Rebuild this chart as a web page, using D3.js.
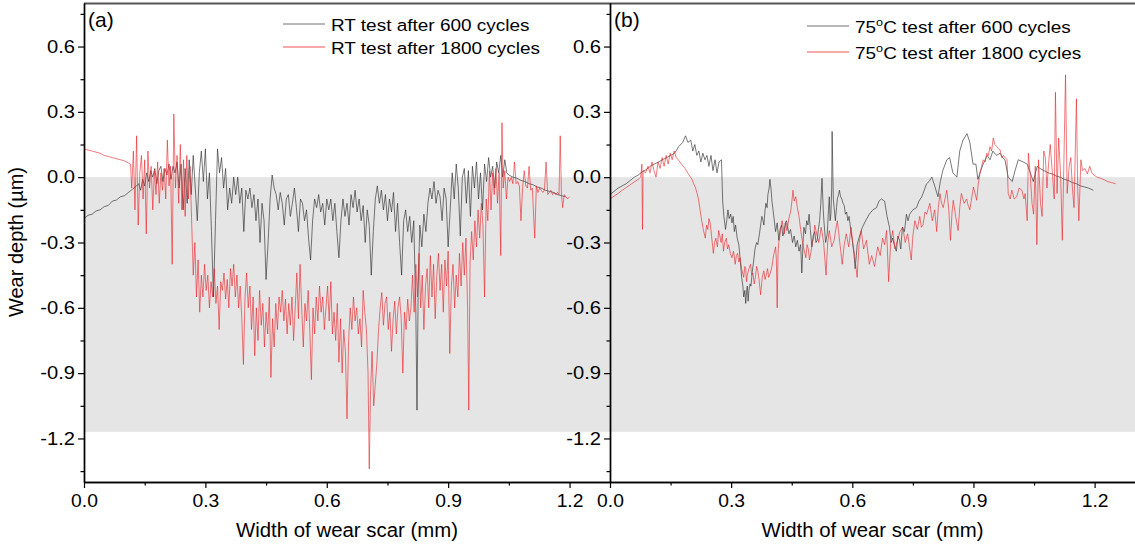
<!DOCTYPE html>
<html><head><meta charset="utf-8">
<script src="https://cdn.jsdelivr.net/npm/d3@7"></script>
<style>
body{margin:0;background:#fff}
svg{display:block}
text{font-family:"Liberation Sans",Arial,sans-serif;fill:#000}
</style></head>
<body><svg id="chart" width="1135" height="544"></svg>
<script>
// ---------- data ----------
const xDomain=[0,1.3];
const yDomain=[-1.4,0.8];
const xMajorTicks=[0,0.3,0.6,0.9,1.2];
const xMinorTicks=[0.15,0.45,0.75,1.05];
const yMajorTicks=[-1.2,-0.9,-0.6,-0.3,0,0.3,0.6];
const yMinorTicks=[-1.35,-1.05,-0.75,-0.45,-0.15,0.15,0.45,0.75];
const bandRange=[0,-1.17];
const panelLabels=["(a)","(b)"];
const xTitle="Width of wear scar (mm)";
const yTitle="Wear depth (µm)";
const legendA=[["RT test after 600 cycles"],["RT test after 1800 cycles"]];
const legendB=[["75","o","C test after 600 cycles"],["75","o","C test after 1800 cycles"]];

const rt600=[[0,-0.19],[0.01,-0.175],[0.02,-0.17],[0.03,-0.155],[0.04,-0.15],[0.05,-0.135],[0.06,-0.13],[0.07,-0.11],[0.08,-0.105],[0.09,-0.09],[0.1,-0.085],[0.11,-0.07],[0.12,-0.055],[0.13,-0.04],
[0.135,-0.03],[0.14,-0.06],[0.145,-0.01],[0.15,-0.04],[0.155,0.02],[0.16,-0.02],[0.165,0.03],[0.17,0.0],[0.175,0.04],[0.18,-0.03],[0.185,0.03],[0.19,0.05],[0.195,-0.02],[0.2,0.04],[0.205,0.01],[0.21,0.06],[0.215,-0.01],[0.22,0.05],[0.225,0.02],[0.23,0.07],[0.235,-0.05],[0.24,0.06],[0.245,-0.15],[0.25,0.04],[0.255,-0.12],[0.26,0.08],
[0.265,-0.08],[0.27,0.1],[0.275,-0.05],[0.28,-0.2],[0.285,0.02],[0.29,0.12],[0.295,-0.02],[0.3,0.13],[0.305,-0.1],[0.31,0.02],[0.315,-0.25],[0.32,-0.55],[0.325,-0.2],[0.33,0.13],[0.335,0.02],[0.34,0.09],[0.345,-0.05],[0.35,0.04],[0.355,-0.15],[0.36,-0.05],
[0.365,-0.12],[0.37,0.0],[0.375,-0.08],[0.38,0.0],[0.385,-0.12],[0.39,-0.05],[0.395,-0.25],[0.4,-0.06],[0.405,-0.1],[0.41,-0.05],[0.415,-0.14],[0.42,-0.08],[0.425,-0.2],[0.43,-0.1],[0.435,-0.3],[0.44,-0.12],[0.445,-0.2],[0.45,-0.47],[0.455,-0.3],[0.46,-0.1],[0.465,0.01],[0.47,-0.05],[0.475,-0.08],[0.48,-0.15],[0.485,-0.07],[0.49,-0.12],
[0.495,-0.22],[0.5,-0.1],[0.505,-0.08],[0.51,-0.18],[0.515,-0.12],[0.52,-0.05],[0.525,-0.14],[0.53,-0.25],[0.535,-0.1],[0.54,-0.12],[0.545,-0.2],[0.55,-0.15],[0.555,-0.28],[0.56,-0.38],[0.565,-0.2],[0.57,-0.1],[0.575,-0.14],[0.58,-0.08],[0.585,-0.16],[0.59,-0.12],[0.595,-0.22],[0.6,-0.1],
[0.605,-0.15],[0.61,-0.1],[0.615,-0.2],[0.62,-0.12],[0.625,-0.25],[0.63,-0.37],[0.635,-0.2],[0.64,-0.1],[0.645,-0.18],[0.65,-0.12],[0.655,-0.22],[0.66,-0.08],[0.665,-0.14],[0.67,-0.06],[0.675,-0.16],[0.68,-0.1],[0.685,-0.2],[0.69,-0.13],[0.695,-0.3],[0.7,-0.15],[0.705,-0.22],[0.71,-0.45],[0.715,-0.25],[0.72,-0.1],
[0.725,-0.04],[0.73,-0.12],[0.735,-0.06],[0.74,-0.15],[0.745,-0.08],[0.75,-0.2],[0.755,-0.1],[0.76,-0.16],[0.765,-0.07],[0.77,-0.25],[0.775,-0.12],[0.78,-0.3],[0.785,-0.45],[0.79,-0.2],[0.795,-0.15],
[0.8,-0.25],[0.805,-0.18],[0.81,-0.3],[0.815,-0.2],[0.82,-0.6],[0.823,-1.07],[0.826,-0.5],[0.83,-0.22],[0.835,-0.32],[0.84,-0.17],[0.845,-0.25],[0.85,-0.12],
[0.855,-0.05],[0.86,-0.1],[0.865,-0.02],[0.87,-0.12],[0.875,-0.06],[0.88,-0.09],[0.885,-0.2],[0.89,-0.05],[0.895,-0.1],[0.9,-0.32],[0.905,-0.15],
[0.91,0.02],[0.915,-0.1],[0.92,0.06],[0.925,-0.05],[0.93,-0.27],[0.935,0.0],[0.94,0.04],[0.945,-0.12],[0.95,0.03],[0.955,-0.18],[0.96,0.05],[0.965,-0.05],[0.97,0.07],[0.975,-0.1],[0.98,0.02],[0.985,-0.15],[0.99,0.06],[0.995,-0.02],
[1.0,0.09],[1.005,0.0],[1.01,0.05],[1.015,-0.05],[1.02,0.07],[1.025,0.02],[1.03,0.1],[1.035,0.0],[1.04,0.08],[1.045,0.02],
[1.05,0.01],[1.06,0.0],[1.07,-0.005],[1.08,-0.015],[1.09,-0.02],[1.1,-0.03],[1.11,-0.035],[1.12,-0.045],[1.13,-0.05],[1.14,-0.06],[1.15,-0.065],[1.16,-0.07],[1.17,-0.08],[1.18,-0.085],[1.19,-0.09]];

const rt1800=[[0,0.13],[0.01,0.125],[0.02,0.12],[0.03,0.115],[0.04,0.11],[0.05,0.1],[0.06,0.095],[0.07,0.09],[0.08,0.085],[0.09,0.08],[0.1,0.075],[0.11,0.065],[0.115,0.06],
[0.118,-0.05],[0.122,0.12],[0.126,-0.15],[0.13,0.19],[0.134,-0.22],[0.138,0.02],[0.142,0.1],[0.146,-0.1],[0.15,0.08],[0.154,-0.26],[0.158,0.12],[0.162,-0.05],[0.166,0.05],[0.17,-0.15],[0.174,0.03],[0.178,-0.08],[0.182,0.07],[0.186,-0.12],[0.19,0.02],[0.194,-0.06],[0.198,0.04],[0.202,-0.1],[0.206,0.17],[0.21,-0.04],[0.214,0.05],[0.218,-0.4],[0.222,0.29],[0.226,-0.05],[0.23,0.1],[0.234,-0.12],[0.238,0.15],[0.242,-0.15],[0.246,0.08],[0.25,-0.18],[0.254,0.1],[0.258,-0.1],[0.262,0.05],
[0.266,-0.2],[0.27,-0.45],[0.274,-0.3],[0.278,-0.55],[0.282,-0.38],[0.286,-0.62],[0.29,-0.45],[0.294,-0.55],[0.298,-0.4],
[0.302,-0.52],[0.306,-0.45],[0.31,-0.6],[0.314,-0.48],[0.318,-0.55],[0.322,-0.42],[0.326,-0.58],[0.33,-0.5],[0.334,-0.7],[0.338,-0.48],[0.342,-0.52],[0.346,-0.44],[0.35,-0.56],[0.354,-0.47],[0.358,-0.6],[0.362,-0.42],[0.366,-0.5],[0.37,-0.4],[0.374,-0.55],[0.378,-0.45],[0.382,-0.6],[0.386,-0.5],[0.39,-0.65],[0.394,-0.86],[0.398,-0.55],
[0.402,-0.44],[0.406,-0.6],[0.41,-0.5],[0.414,-0.7],[0.418,-0.55],[0.422,-0.82],[0.426,-0.6],[0.43,-0.75],[0.434,-0.52],[0.438,-0.68],[0.442,-0.58],[0.446,-0.78],[0.45,-0.62],[0.454,-0.72],[0.458,-0.55],[0.462,-0.92],[0.466,-0.65],[0.47,-0.78],[0.474,-0.58],[0.478,-0.7],[0.482,-0.55],
[0.486,-0.62],[0.49,-0.52],[0.494,-0.66],[0.498,-0.56],[0.502,-0.72],[0.506,-0.58],[0.51,-0.68],[0.514,-0.55],[0.518,-0.75],[0.522,-0.6],[0.526,-0.44],[0.53,-0.65],[0.534,-0.4],[0.538,-0.6],[0.542,-0.78],[0.546,-0.58],[0.55,-0.66],[0.554,-0.52],[0.558,-0.7],[0.562,-0.93],[0.566,-0.6],[0.57,-0.72],[0.574,-0.55],
[0.578,-0.66],[0.582,-0.5],[0.586,-0.62],[0.59,-0.55],[0.594,-0.7],[0.598,-0.6],[0.602,-0.5],[0.606,-0.66],[0.61,-0.48],[0.614,-0.72],[0.618,-0.62],[0.622,-0.75],[0.626,-0.58],[0.63,-0.85],[0.634,-0.65],[0.638,-0.9],[0.642,-0.7],[0.646,-0.8],[0.65,-1.11],[0.654,-0.75],
[0.658,-0.6],[0.662,-0.7],[0.666,-0.55],[0.67,-0.66],[0.674,-0.6],[0.678,-0.72],[0.682,-0.65],[0.686,-0.78],[0.69,-0.52],[0.694,-0.62],[0.698,-0.7],[0.702,-0.9],[0.705,-1.34],[0.708,-1.0],[0.712,-0.8],
[0.716,-1.05],[0.72,-0.95],[0.724,-0.85],[0.728,-0.7],[0.732,-0.6],[0.736,-0.53],[0.74,-0.68],[0.744,-0.58],[0.748,-0.55],[0.752,-0.7],[0.756,-0.62],[0.76,-0.8],[0.764,-0.65],[0.768,-0.57],[0.772,-0.72],[0.776,-0.6],
[0.78,-0.55],[0.784,-0.65],[0.788,-0.9],[0.792,-0.62],[0.796,-0.7],[0.8,-0.56],[0.804,-0.66],[0.808,-0.6],
[0.812,-0.45],[0.816,-0.62],[0.82,-0.4],[0.824,-0.55],[0.828,-0.35],[0.832,-0.6],[0.836,-0.45],[0.84,-0.7],[0.844,-0.5],[0.848,-0.42],[0.852,-0.6],[0.856,-0.36],[0.86,-0.55],[0.864,-0.4],[0.868,-0.65],[0.872,-0.45],[0.876,-0.35],[0.88,-0.52],[0.884,-0.4],[0.888,-0.62],[0.892,-0.38],[0.896,-0.5],[0.9,-0.34],[0.904,-0.81],[0.908,-0.5],[0.912,-0.4],[0.916,-0.6],[0.92,-0.45],
[0.924,-0.55],[0.928,-0.35],[0.932,-0.5],[0.936,-0.3],[0.94,-0.45],[0.944,-0.28],[0.948,-0.6],[0.951,-1.07],[0.954,-0.4],[0.958,-0.25],[0.962,-0.38],[0.966,-0.2],[0.97,-0.32],[0.974,-0.15],[0.978,-0.28],[0.982,-0.12],[0.986,-0.22],[0.99,-0.55],[0.994,-0.1],[0.998,-0.2],
[1.002,0.03],[1.006,-0.15],[1.01,0.02],[1.014,-0.08],[1.018,0.04],[1.022,-0.12],[1.026,0.02],[1.03,-0.36],[1.033,0.25],[1.036,-0.05],[1.04,0.03],[1.044,-0.1],[1.048,0.0],
[1.052,-0.02],[1.056,0.0],[1.06,-0.03],[1.064,0.07],[1.068,-0.03],[1.072,-0.02],[1.076,-0.04],[1.08,-0.2],[1.084,-0.05],[1.088,0.03],[1.092,-0.04],[1.096,-0.05],[1.1,0.05],[1.104,-0.06],[1.108,-0.05],[1.114,-0.28],[1.118,-0.04],[1.122,-0.07],[1.126,-0.05],[1.13,-0.06],[1.134,-0.07],[1.138,-0.06],[1.142,0.07],[1.146,-0.08],[1.15,-0.07],[1.154,-0.06],[1.158,-0.08],[1.162,-0.07],[1.166,-0.08],[1.17,-0.07],[1.174,-0.08],[1.177,0.19],[1.18,-0.08],[1.183,-0.14],[1.187,-0.08],[1.191,-0.09],[1.195,-0.1],[1.2,-0.09]];

const t75_600=[[0,-0.08],[0.01,-0.065],[0.02,-0.05],[0.03,-0.04],[0.04,-0.03],[0.05,-0.015],[0.06,0.0],[0.07,0.01],[0.08,0.025],[0.09,0.035],[0.1,0.05],[0.11,0.06],[0.12,0.07],[0.13,0.08],[0.14,0.09],[0.15,0.1],[0.16,0.11],[0.17,0.14],[0.18,0.16],[0.187,0.19],[0.193,0.16],[0.2,0.17],[0.205,0.12],[0.21,0.15],[0.215,0.1],[0.22,0.12],[0.225,0.07],[0.23,0.11],[0.235,0.08],[0.24,0.1],[0.245,0.05],[0.25,0.1],[0.255,0.03],[0.26,0.08],[0.265,0.02],[0.27,0.07],[0.276,0.08],
[0.279,-0.11],[0.282,-0.18],[0.286,-0.24],[0.289,-0.2],[0.292,-0.15],[0.295,-0.19],[0.299,-0.17],[0.302,-0.21],[0.305,-0.18],[0.308,-0.25],[0.311,-0.22],[0.315,-0.28],[0.319,-0.31],[0.322,-0.37],[0.326,-0.46],[0.329,-0.5],[0.331,-0.55],[0.334,-0.52],[0.336,-0.58],[0.338,-0.53],[0.34,-0.5],[0.342,-0.57],[0.344,-0.52],[0.347,-0.49],[0.349,-0.5],[0.352,-0.44],[0.356,-0.38],[0.359,-0.33],[0.363,-0.3],[0.366,-0.31],[0.37,-0.26],[0.373,-0.22],[0.376,-0.18],[0.379,-0.2],[0.381,-0.22],[0.384,-0.15],[0.386,-0.12],[0.389,-0.14],[0.391,-0.08],[0.394,-0.05],[0.396,-0.01],[0.399,-0.06],[0.401,-0.11],[0.405,-0.17],[0.41,-0.25],[0.414,-0.21],[0.418,-0.29],[0.421,-0.24],[0.425,-0.22],[0.428,-0.27],[0.431,-0.25],[0.434,-0.21],[0.437,-0.2],[0.44,-0.23],[0.443,-0.26],[0.447,-0.24],[0.452,-0.3],[0.456,-0.27],[0.46,-0.32],[0.464,-0.29],[0.468,-0.34],[0.472,-0.31],[0.475,-0.44],[0.478,-0.3],[0.48,-0.23],[0.484,-0.26],[0.487,-0.2],[0.49,-0.22],[0.493,-0.17],[0.496,-0.24],[0.5,-0.32],[0.503,-0.27],[0.507,-0.25],[0.51,-0.3],[0.513,-0.29],[0.516,-0.24],[0.519,-0.2],[0.522,-0.12],[0.525,-0.005],[0.528,-0.15],[0.53,-0.21],[0.534,-0.3],[0.538,-0.26],[0.541,-0.15],[0.543,-0.09],[0.545,-0.2],[0.547,-0.17],[0.549,-0.05],[0.55,0.21],[0.552,0.0],[0.553,-0.1],[0.556,-0.16],[0.558,-0.2],[0.561,-0.14],[0.563,-0.1],[0.566,-0.08],[0.568,-0.06],[0.571,-0.09],[0.574,-0.1],[0.577,-0.12],[0.58,-0.13],[0.583,-0.17],[0.586,-0.16],[0.589,-0.2],[0.592,-0.18],[0.596,-0.24],[0.6,-0.29],[0.604,-0.35],[0.607,-0.42],[0.61,-0.36],[0.612,-0.31],
[0.618,-0.27],[0.625,-0.23],[0.633,-0.2],[0.642,-0.17],[0.651,-0.15],[0.66,-0.14],[0.666,-0.11],[0.672,-0.1],[0.68,-0.11],[0.686,-0.18],[0.692,-0.23],[0.696,-0.3],[0.7,-0.28],[0.705,-0.32],[0.709,-0.34],[0.713,-0.27],[0.717,-0.29],[0.72,-0.33],[0.724,-0.23],[0.729,-0.25],[0.734,-0.17],[0.738,-0.2],[0.742,-0.17],[0.75,-0.15],[0.759,-0.14],[0.765,-0.11],[0.772,-0.09],[0.778,-0.06],[0.784,-0.03],[0.79,-0.02],[0.797,0.0],[0.804,-0.04],[0.812,-0.09],[0.818,-0.02],[0.824,0.03],[0.834,0.08],[0.841,0.09],[0.849,0.02],[0.854,0.01],[0.859,0.0],[0.866,0.12],[0.874,0.17],[0.884,0.2],[0.891,0.16],[0.899,0.06],[0.906,0.06],[0.911,-0.01],[0.918,0.03],[0.924,0.06],[0.934,0.1],[0.941,0.08],[0.948,0.12],[0.957,0.1],[0.966,0.11],[0.972,0.09],[0.978,0.08],[0.986,0.0],[0.996,-0.02],[1.003,0.03],[1.011,0.08],[1.023,0.07],[1.033,0.06],[1.041,0.02],[1.048,-0.02],[1.058,0.05],[1.065,0.04],[1.075,0.03],[1.085,0.02],[1.095,0.015],[1.105,0.005],[1.115,0.0],[1.125,-0.01],[1.135,-0.015],[1.145,-0.025],[1.155,-0.03],[1.165,-0.04],[1.175,-0.045],[1.185,-0.05],[1.197,-0.06]];

const t75_1800=[[0,-0.1],[0.01,-0.087],[0.02,-0.075],[0.03,-0.06],[0.04,-0.048],[0.05,-0.035],[0.06,-0.022],[0.07,-0.01],[0.076,0.0],[0.079,0.06],[0.0805,-0.24],[0.082,0.03],[0.088,0.02],[0.094,0.05],[0.099,0.02],[0.104,0.07],[0.109,0.03],[0.114,0.0],[0.119,0.07],[0.124,0.04],[0.129,0.09],[0.134,0.05],[0.139,0.1],[0.144,0.06],[0.149,0.11],[0.154,0.08],[0.159,0.12],[0.164,0.09],[0.169,0.08],[0.177,0.06],[0.186,0.04],[0.194,0.015],
[0.203,-0.01],[0.207,-0.03],[0.211,-0.045],[0.215,-0.07],[0.219,-0.1],[0.223,-0.15],[0.227,-0.2],[0.231,-0.24],[0.236,-0.28],[0.239,-0.22],[0.242,-0.24],[0.245,-0.19],[0.248,-0.21],[0.252,-0.28],[0.256,-0.35],[0.259,-0.3],[0.262,-0.28],[0.266,-0.32],[0.269,-0.245],[0.272,-0.27],[0.275,-0.3],[0.278,-0.26],[0.281,-0.34],[0.284,-0.3],[0.288,-0.28],[0.291,-0.33],[0.294,-0.31],[0.298,-0.35],[0.302,-0.37],[0.306,-0.34],[0.31,-0.4],[0.313,-0.36],[0.316,-0.35],[0.319,-0.39],[0.322,-0.37],[0.326,-0.42],[0.331,-0.46],[0.334,-0.41],[0.336,-0.42],[0.338,-0.48],[0.34,-0.45],[0.344,-0.42],[0.348,-0.4],[0.351,-0.45],[0.354,-0.44],[0.357,-0.49],[0.36,-0.46],[0.363,-0.41],[0.366,-0.43],[0.369,-0.47],[0.373,-0.54],[0.377,-0.46],[0.381,-0.43],[0.384,-0.47],[0.387,-0.45],[0.39,-0.42],[0.393,-0.46],[0.397,-0.44],[0.401,-0.41],[0.405,-0.36],[0.41,-0.32],[0.412,-0.38],[0.414,-0.6],[0.416,-0.35],[0.418,-0.3],[0.422,-0.25],[0.426,-0.2],[0.429,-0.23],[0.432,-0.26],[0.435,-0.21],[0.438,-0.245],[0.443,-0.19],[0.448,-0.15],[0.451,-0.1],[0.453,-0.06],[0.456,-0.11],[0.46,-0.09],[0.464,-0.14],[0.468,-0.18],[0.472,-0.24],[0.476,-0.29],[0.48,-0.33],[0.485,-0.37],[0.488,-0.31],[0.491,-0.33],[0.494,-0.38],[0.498,-0.34],[0.501,-0.3],[0.504,-0.28],[0.507,-0.22],[0.51,-0.245],
[0.517,-0.3],[0.523,-0.23],[0.529,-0.3],[0.535,-0.45],[0.539,-0.3],[0.543,-0.245],[0.549,-0.32],[0.555,-0.29],[0.559,-0.24],[0.563,-0.2],[0.569,-0.3],[0.575,-0.4],[0.58,-0.31],[0.585,-0.26],[0.591,-0.32],[0.597,-0.23],[0.601,-0.3],[0.605,-0.35],[0.612,-0.46],[0.617,-0.3],[0.622,-0.245],[0.628,-0.33],[0.635,-0.29],[0.642,-0.4],[0.648,-0.36],[0.655,-0.41],[0.663,-0.32],[0.669,-0.36],[0.675,-0.28],[0.68,-0.31],[0.685,-0.245],[0.69,-0.48],[0.695,-0.3],[0.7,-0.245],[0.706,-0.33],[0.712,-0.29],[0.718,-0.25],[0.725,-0.23],[0.731,-0.3],[0.737,-0.26],[0.746,-0.38],[0.75,-0.27],[0.755,-0.2],[0.761,-0.24],[0.767,-0.18],[0.771,-0.23],[0.775,-0.22],[0.78,-0.16],[0.784,-0.17],[0.792,-0.12],[0.798,-0.2],[0.804,-0.15],[0.809,-0.25],[0.813,-0.14],[0.817,-0.075],[0.821,-0.12],[0.825,-0.14],[0.834,-0.06],[0.839,-0.15],[0.843,-0.29],[0.847,-0.16],[0.85,-0.106],[0.856,-0.18],[0.862,-0.245],[0.866,-0.14],[0.87,-0.075],[0.877,-0.12],[0.883,-0.1],[0.887,-0.13],[0.891,-0.15],[0.9,-0.045],[0.908,-0.106],[0.912,-0.03],[0.916,0.017],[0.924,0.08],[0.929,0.07],[0.933,0.11],[0.937,0.1],[0.941,0.14],[0.945,0.12],[0.949,0.18],[0.953,0.15],[0.958,0.14],[0.962,0.13],[0.966,0.125],[0.97,0.09],[0.974,0.1],[0.983,0.08],[0.986,-0.075],[0.991,-0.1],[0.995,-0.06],[1.001,-0.1],[1.007,-0.09],[1.013,-0.05],[1.02,-0.06],[1.025,-0.1],[1.028,-0.075],[1.033,-0.2],[1.036,0.11],[1.041,0.0],[1.045,-0.12],[1.049,-0.17],[1.053,0.05],[1.057,-0.31],[1.061,0.08],[1.066,-0.12],[1.07,-0.18],[1.074,0.12],[1.078,0.09],[1.082,-0.05],[1.086,0.06],[1.09,0.15],[1.095,0.03],[1.1,-0.1],[1.103,0.39],[1.107,-0.075],[1.111,0.18],[1.116,0.0],[1.12,-0.29],[1.124,0.08],[1.128,0.47],[1.132,-0.075],[1.137,0.05],[1.141,0.09],[1.145,-0.05],[1.149,-0.14],[1.155,0.36],[1.158,-0.05],[1.161,-0.2],[1.166,0.08],[1.17,0.03],[1.176,0.04],[1.182,0.015],[1.188,0.05],[1.193,0.02],[1.198,0.01],[1.206,0.0],[1.215,-0.005],[1.224,-0.012],[1.232,-0.02],[1.242,-0.025],[1.252,-0.03]];

// ---------- drawing ----------
const svg=d3.select("#chart");
const TOP=3,BOTTOM=482;
const y=d3.scaleLinear().domain(yDomain).range([BOTTOM,TOP]);
const panels=[
  {left:84,right:610,black:rt600,red:rt1800,label:panelLabels[0],legend:legendA,legX:283,legY:[24,47]},
  {left:610,right:1135,black:t75_600,red:t75_1800,label:panelLabels[1],legend:legendB,legX:807,legY:[26,52]}
];
const BLACK="#2a2a2a",RED="#ea1c24";

function stretch(sel,k){
  sel.each(function(){
    const n=this.getComputedTextLength();
    this.setAttribute("textLength",(n*k).toFixed(1));
    this.setAttribute("lengthAdjust","spacingAndGlyphs");
  });
}

panels.forEach((p,i)=>{
  const x=d3.scaleLinear().domain(xDomain).range([p.left,p.right]);
  const g=svg.append("g");
  const cid="clip"+i;
  g.append("clipPath").attr("id",cid).append("rect")
    .attr("x",p.left).attr("y",TOP).attr("width",p.right-p.left).attr("height",BOTTOM-TOP);

  g.append("rect").attr("x",p.left).attr("width",p.right-p.left)
    .attr("y",y(bandRange[0])).attr("height",y(bandRange[1])-y(bandRange[0]))
    .attr("fill","#e5e5e5");

  const line=d3.line().x(d=>x(d[0])).y(d=>y(d[1]));
  const lg=g.append("g").attr("clip-path",`url(#${cid})`);
  lg.append("path").datum(p.black).attr("d",line).attr("fill","none")
    .attr("stroke",BLACK).attr("stroke-width",0.7).attr("stroke-opacity",0.9).attr("stroke-linejoin","round");
  lg.append("path").datum(p.red).attr("d",line).attr("fill","none")
    .attr("stroke",RED).attr("stroke-width",0.7).attr("stroke-opacity",0.85).attr("stroke-linejoin","round");

  // top frame line
  g.append("line").attr("x1",p.left).attr("x2",p.right).attr("y1",TOP+0.5).attr("y2",TOP+0.5)
    .attr("stroke","#555").attr("stroke-width",2);

  // axes
  const fmt=d=>d.toFixed(1);
  const xa=g.append("g").attr("transform",`translate(0,${BOTTOM})`)
    .call(d3.axisBottom(x).tickValues(xMajorTicks).tickFormat(fmt).tickSize(6).tickSizeOuter(0).tickPadding(7));
  g.append("g").attr("transform",`translate(0,${BOTTOM})`)
    .call(d3.axisBottom(x).tickValues(xMinorTicks).tickFormat("").tickSize(3.5).tickSizeOuter(0));
  const ya=g.append("g").attr("transform",`translate(${p.left},0)`)
    .call(d3.axisLeft(y).tickValues(yMajorTicks).tickFormat(fmt).tickSize(6).tickSizeOuter(0).tickPadding(3));
  g.append("g").attr("transform",`translate(${p.left},0)`)
    .call(d3.axisLeft(y).tickValues(yMinorTicks).tickFormat("").tickSize(3.5).tickSizeOuter(0));
  g.selectAll(".domain").attr("stroke","#000").attr("stroke-width",1.4);
  g.selectAll(".tick line").attr("stroke","#000").attr("stroke-width",1.2);
  g.selectAll(".tick text").attr("font-size",17.5).attr("font-family",'"Liberation Sans",Arial,sans-serif').attr("fill","#000");
  stretch(xa.selectAll(".tick text"),1.1);
  stretch(ya.selectAll(".tick text"),1.15);

  // x title
  g.append("text").attr("x",(p.left+p.right)/2).attr("y",537).attr("text-anchor","middle")
    .attr("font-size",19.5).attr("textLength",222).attr("lengthAdjust","spacingAndGlyphs").text(xTitle);

  // panel label
  g.append("text").attr("x",p.left+4).attr("y",27).attr("font-size",21).text(p.label);

  // legend
  p.legend.forEach((parts,j)=>{
    const ly=p.legY[j];
    g.append("line").attr("x1",p.legX).attr("x2",p.legX+42).attr("y1",ly).attr("y2",ly)
      .attr("stroke",j===0?BLACK:RED).attr("stroke-width",0.9).attr("stroke-opacity",j===0?0.75:0.85);
    const t=g.append("g").attr("transform",`translate(${p.legX+48},${ly+6.5}) scale(1.15,1)`)
      .append("text").attr("font-size",16.5);
    if(parts.length===1){ t.text(parts[0]); }
    else{
      t.append("tspan").text(parts[0]);
      t.append("tspan").attr("font-size",11).attr("dy",-6.5).text(parts[1]);
      t.append("tspan").attr("dy",6.5).text(parts[2]);
    }
  });
});

// y title
svg.append("text").attr("transform","translate(23,242) rotate(-90)").attr("text-anchor","middle")
  .attr("font-size",19.5).attr("textLength",150).attr("lengthAdjust","spacingAndGlyphs").text(yTitle);
</script>
</body></html>
